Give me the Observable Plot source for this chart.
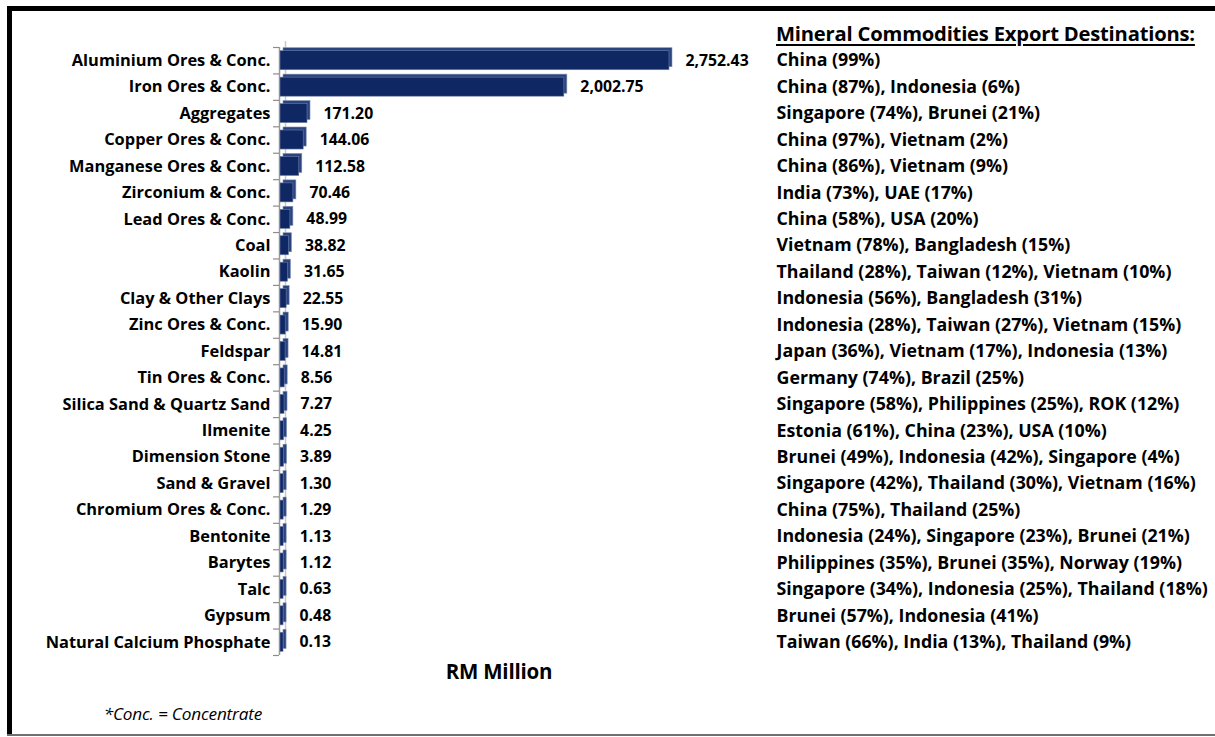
<!DOCTYPE html>
<html><head><meta charset="utf-8">
<script src="https://cdn.jsdelivr.net/npm/d3@7"></script>
<script src="https://cdn.jsdelivr.net/npm/@observablehq/plot@0.6"></script>
<style>
body{margin:0;background:#fff;}
#wrap{position:relative;width:1215px;height:737px;overflow:hidden;font-family:"Open Sans",Lato,sans-serif;background:#fff;}
#wrap svg{position:absolute;left:0;top:0;}
.b{position:absolute;}
#title{position:absolute;left:776px;top:19px;font-size:20.2px;font-weight:bold;text-decoration:underline;text-decoration-thickness:2px;text-underline-offset:3px;white-space:nowrap;letter-spacing:-0.2px;}
#xlab{position:absolute;left:349px;width:300px;text-align:center;top:657px;font-size:20.5px;font-weight:bold;letter-spacing:-0.2px;}
#foot{position:absolute;left:0;width:262px;text-align:right;top:702px;font-size:17.2px;font-style:italic;letter-spacing:-0.2px;}
</style></head>
<body><div id="wrap"></div>
<script>
const minerals = ["Aluminium Ores & Conc.","Iron Ores & Conc.","Aggregates","Copper Ores & Conc.","Manganese Ores & Conc.","Zirconium & Conc.","Lead Ores & Conc.","Coal","Kaolin","Clay & Other Clays","Zinc Ores & Conc.","Feldspar","Tin Ores & Conc.","Silica Sand & Quartz Sand","Ilmenite","Dimension Stone","Sand & Gravel","Chromium Ores & Conc.","Bentonite","Barytes","Talc","Gypsum","Natural Calcium Phosphate"];
const values = [2752.43,2002.75,171.20,144.06,112.58,70.46,48.99,38.82,31.65,22.55,15.90,14.81,8.56,7.27,4.25,3.89,1.30,1.29,1.13,1.12,0.63,0.48,0.13];
const destinations = ["China (99%)","China (87%), Indonesia (6%)","Singapore (74%), Brunei (21%)","China (97%), Vietnam (2%)","China (86%), Vietnam (9%)","India (73%), UAE (17%)","China (58%), USA (20%)","Vietnam (78%), Bangladesh (15%)","Thailand (28%), Taiwan (12%), Vietnam (10%)","Indonesia (56%), Bangladesh (31%)","Indonesia (28%), Taiwan (27%), Vietnam (15%)","Japan (36%), Vietnam (17%), Indonesia (13%)","Germany (74%), Brazil (25%)","Singapore (58%), Philippines (25%), ROK (12%)","Estonia (61%), China (23%), USA (10%)","Brunei (49%), Indonesia (42%), Singapore (4%)","Singapore (42%), Thailand (30%), Vietnam (16%)","China (75%), Thailand (25%)","Indonesia (24%), Singapore (23%), Brunei (21%)","Philippines (35%), Brunei (35%), Norway (19%)","Singapore (34%), Indonesia (25%), Thailand (18%)","Brunei (57%), Indonesia (41%)","Taiwan (66%), India (13%), Thailand (9%)"];
const titleText = "Mineral Commodities Export Destinations:";
const axisTitle = "RM Million";
const footnote = "*Conc. = Concentrate";

const data = minerals.map((m, i) => ({mineral: m, value: values[i], dest: destinations[i]}));
const fmt = d3.format(",.2f");
const W = 1215, H = 737, mT = 47, mB = 82;
const step = (H - mT - mB) / minerals.length;

const chart = Plot.plot({
  width: W, height: H,
  marginLeft: 280, marginRight: 439, marginTop: mT, marginBottom: mB,
  x: {domain: [0, 3537], axis: null},
  y: {domain: minerals, paddingInner: 0.28, paddingOuter: 0.14, round: false, axis: null},
  style: {fontFamily: "'Open Sans', Lato, sans-serif", fontSize: "16px", fontWeight: "bold", color: "#000", background: "transparent", overflow: "visible"},
  marks: [
    Plot.ruleX([0], {stroke: "#c8c8c8", strokeWidth: 1.5, dx: 5, dy: -6}),
    Plot.ruleX([0], {stroke: "#9a9a9a", strokeWidth: 1.5, dx: -1}),
    Plot.ruleY(minerals, {y: d => d, x1: 0, x2: 0, insetLeft: -6, dx: -1, dy: step / 2, stroke: "#8c8c8c", strokeWidth: 1.2}),
    Plot.ruleY(minerals.slice(0, 1), {y: d => d, x1: 0, x2: 0, insetLeft: -6, dx: -1, dy: -step / 2, stroke: "#8c8c8c", strokeWidth: 1.2}),
    Plot.text(minerals, {y: d => d, text: d => d, frameAnchor: "left", textAnchor: "end", dx: -10, fill: "#000", fontSize: 16.4, letterSpacing: -0.2}),
    Plot.barX(data, {x: "value", y: "mineral", dx: 3, dy: -3, insetRight: -3, fill: "#2a4480", stroke: "#8390b4", strokeWidth: 0.6}),
    Plot.barX(data, {x: "value", y: "mineral", insetRight: -3, fill: "#0f2763", stroke: "#6d7ea8", strokeWidth: 0.6}),
    Plot.text(data, {x: "value", y: "mineral", text: d => fmt(d.value), textAnchor: "start", dx: 19, fill: "#000", fontSize: 15.8}),
    Plot.text(data, {y: "mineral", text: "dest", frameAnchor: "right", textAnchor: "start", fill: "#000", fontSize: 17.8, letterSpacing: -0.2})
  ]
});

const wrap = document.getElementById("wrap");
wrap.appendChild(chart);
const add = (cls, style, txt, id) => { const d = document.createElement("div"); if (cls) d.className = cls; if (id) d.id = id; if (style) d.setAttribute("style", style); if (txt) d.textContent = txt; wrap.appendChild(d); };
add("b", "left:7px;top:6px;width:1208px;height:5px;background:#000;");
add("b", "left:7px;top:6px;width:5px;height:729px;background:#000;");
add("b", "left:7px;top:734px;width:1208px;height:2px;background:#707070;");
add(null, null, titleText, "title");
add(null, null, axisTitle, "xlab");
add(null, null, footnote, "foot");
</script>
</body></html>
